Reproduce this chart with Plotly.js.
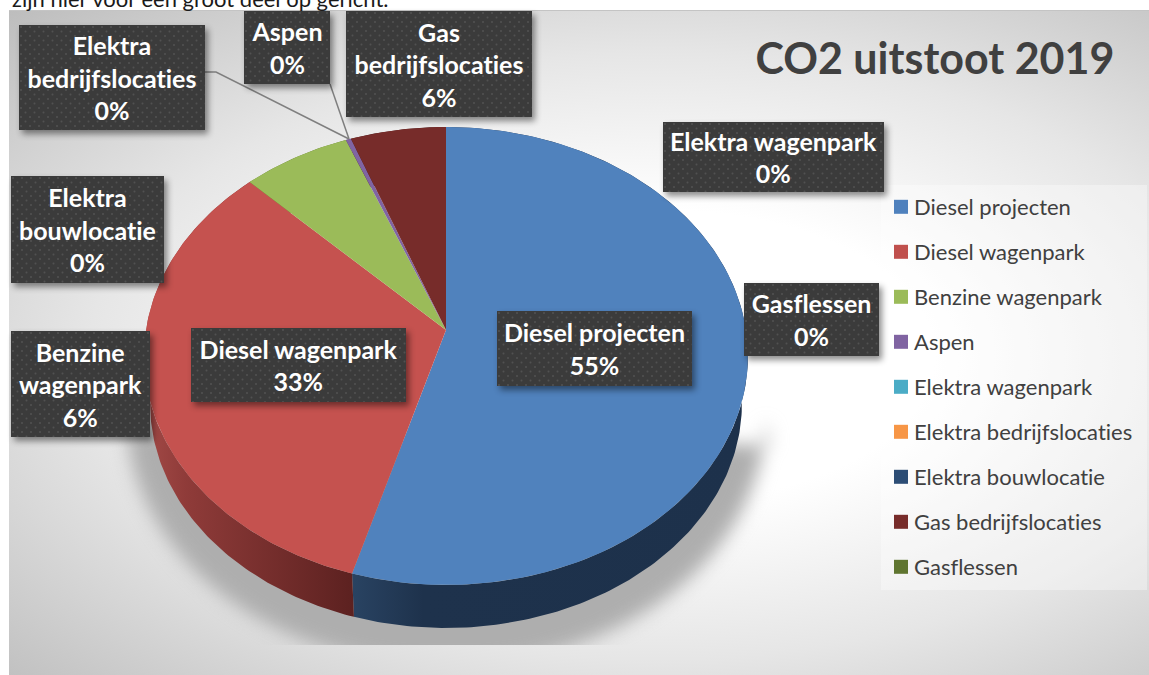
<!DOCTYPE html>
<html>
<head>
<meta charset="utf-8">
<script src="https://cdn.plot.ly/plotly-3.0.1.min.js"></script>
<style>
html,body{margin:0;padding:0;background:#fff;overflow:hidden}
#frame{position:absolute;left:9px;top:10px;width:1140px;height:665px;border-top:1px solid #c4c4c4;box-sizing:border-box;
background:radial-gradient(ellipse farthest-corner at 57% 52%,#fff 0%,#fff 30%,#e6e6e6 62%,#bdbdbd 100%)}
#chart{position:absolute;left:0;top:0;width:1149px;height:675px}
#chart text{font-variant-ligatures:none;font-feature-settings:"liga" 0,"clig" 0}
</style>
</head>
<body>
<div id="frame"></div>
<div id="chart"></div>
<script>
const categories=["Diesel projecten","Diesel wagenpark","Benzine wagenpark","Aspen","Elektra wagenpark","Elektra bedrijfslocaties","Elektra bouwlocatie","Gas bedrijfslocaties","Gasflessen"];
const values=[54.5,33,6.49,0.31,0,0,0,5.7,0];
const topColors=["#5082bd","#c5524f","#9bbb59","#8064a2","#4bacc6","#f79646","#2c4d75","#772c2a","#5f7530"];
const legendColors=["#4f81bd","#c0504d","#9bbb59","#8064a2","#4bacc6","#f79646","#2c4d75","#772c2a","#5f7530"];
const sideScales=[
 [[0,"#294362"],[0.18,"#1e324c"],[1,"#1d314b"]],
 [[0,"#a34a47"],[0.2,"#8f3b39"],[1,"#5c2120"]],
 [[0,"#5f7530"],[1,"#5f7530"]],
 [[0,"#4c3b60"],[1,"#4c3b60"]],
 [[0,"#2c6a7a"],[1,"#2c6a7a"]],
 [[0,"#a05c20"],[1,"#a05c20"]],
 [[0,"#1b2f48"],[1,"#1b2f48"]],
 [[0,"#471a19"],[1,"#471a19"]],
 [[0,"#3a471d"],[1,"#3a471d"]]
];
const boxLabels=["Diesel projecten","Diesel wagenpark","Benzine<br>wagenpark","Aspen","Elektra wagenpark","Elektra<br>bedrijfslocaties","Elektra<br>bouwlocatie","Gas<br>bedrijfslocaties","Gasflessen"];
// label boxes: left, top, right, bottom (pixels)
const boxes=[[497,311,692,386],[191,328,406,402],[11,331,150,437],[244,11,330,84],[663,122,884,192],[19,25,205,130],[11,176,164,283],[346,11,532,117],[744,283,879,356]];

// perspective projection of the pie disc
const apex={x:446,y:330}, K=0.1135, A=226, B=300;
function topPt(t){const u=Math.sin(t),v=Math.cos(t),w=1+K*v;return [apex.x+B*u/w,apex.y-A*v/w];}
function lowPt(t){const p=topPt(t);return [apex.x+(p[0]-apex.x)*0.98,356+(p[1]-356)*0.98+47.6];}
function arc(fn,a,b){const n=Math.max(2,Math.ceil(Math.abs(b-a)/0.015)),o=[];for(let i=0;i<=n;i++)o.push(fn(a+(b-a)*i/n));return o;}
const total=values.reduce((s,v)=>s+v,0);
let cum=0;
const spans=values.map(v=>{const a=cum/total*2*Math.PI;cum+=v;return [a,cum/total*2*Math.PI];});
function poly(pts,extra){return Object.assign({x:pts.map(p=>p[0]),y:pts.map(p=>p[1]),type:'scatter',mode:'lines',fill:'toself',line:{width:0},hoverinfo:'skip',showlegend:false},extra);}

const traces=[];
// soft shadow beneath the pie
(function(){
 const s=[];
 s.push([770,445]);
 arc(t=>{const p=lowPt(t);return [apex.x+(p[0]-apex.x)*1.08,Math.min(356+(p[1]-356)*1.12+6,665)];},1.7,4.55).forEach(p=>s.push(p));
 s.push([122,430]);
 traces.push(poly(s,{fillcolor:'#aeaeae'}));
})();
values.forEach((v,i)=>{ if(v<=0)return;
 const [a,b]=spans[i];
 const pts=arc(topPt,a,b).concat(arc(lowPt,b,a));
 traces.push(poly(pts,{fillgradient:{type:'horizontal',colorscale:sideScales[i]}}));
});
values.forEach((v,i)=>{ if(v<=0)return;
 const [a,b]=spans[i];
 const pts=[[apex.x,apex.y]].concat(arc(topPt,a,b));
 traces.push(poly(pts,{fillcolor:topColors[i],name:categories[i]}));
});
categories.forEach((c,i)=>{
 traces.push({x:[null],y:[null],type:'scatter',mode:'markers',name:c,legendgroup:c,showlegend:true,
  marker:{symbol:'square',size:14,color:legendColors[i]},hoverinfo:'skip'});
});

const annotations=categories.map((c,i)=>{
 const b=boxes[i];
 return {x:(b[0]+b[2])/2,y:(b[1]+b[3])/2,xref:'x',yref:'y',xanchor:'center',yanchor:'middle',showarrow:false,
  text:boxLabels[i]+'<br>'+Math.round(values[i])+'%',width:b[2]-b[0],height:b[3]-b[1],
  align:'center',valign:'middle',bgcolor:'#3c3c3c',borderwidth:0,borderpad:0,
  font:{family:'Lato',size:25,color:'#fff',weight:700}};
});
annotations.push({x:11,y:0,yshift:2,xref:'x',yref:'y',xanchor:'left',yanchor:'middle',showarrow:false,borderpad:0,
 text:'zijn hier voor een groot deel op gericht.',font:{family:'Lato',size:22,color:'#1a1a1a'}});

const layout={
 width:1149,height:675,margin:{l:0,r:0,t:0,b:0},paper_bgcolor:'rgba(0,0,0,0)',plot_bgcolor:'rgba(0,0,0,0)',
 xaxis:{range:[0,1149],visible:false,fixedrange:true},
 yaxis:{range:[675,0],visible:false,fixedrange:true},
 title:{text:'<b>CO2 uitstoot 2019</b>',x:0.8137,xanchor:'center',y:0.9126,yanchor:'middle',font:{family:'Lato',size:43,color:'#404040'}},
 legend:{x:874/1149,xanchor:'left',y:1-186/675,yanchor:'top',bgcolor:'rgba(0,0,0,0)',borderwidth:0,
  font:{family:'Lato',size:22,color:'#404040'},tracegroupgap:13.4,itemwidth:30,itemclick:false,itemdoubleclick:false},
 shapes:[
  {type:'rect',xref:'x',yref:'y',x0:881,x1:1147,y0:185,y1:590,fillcolor:'rgba(255,255,255,0.35)',line:{width:0},layer:'below'},
  {type:'path',xref:'x',yref:'y',path:'M205,72 L216,72 L349,139',line:{color:'#7f7f7f',width:1.5},layer:'above'},
  {type:'path',xref:'x',yref:'y',path:'M330,84 L349,139',line:{color:'#7f7f7f',width:1.5},layer:'above'}
 ],
 annotations:annotations,showlegend:true
};
Plotly.newPlot('chart',traces,layout,{displayModeBar:false}).then(gd=>{
 const NS='http://www.w3.org/2000/svg';
 const svg=gd.querySelector('svg.main-svg');
 const defs=svg.querySelector('defs');
 const pat=document.createElementNS(NS,'pattern');
 pat.setAttribute('id','dots');pat.setAttribute('width','9');pat.setAttribute('height','9');pat.setAttribute('patternUnits','userSpaceOnUse');
 pat.innerHTML='<rect width="9" height="9" fill="#3b3b3b"/><circle cx="2" cy="2" r="1" fill="#515151"/><circle cx="6.5" cy="6.5" r="1" fill="#515151"/>';
 defs.appendChild(pat);
 const clip=document.createElementNS(NS,'clipPath');
 clip.setAttribute('id','shadowclip');
 clip.innerHTML='<rect x="0" y="0" width="1149" height="645"/>';
 defs.appendChild(clip);
 gd.querySelectorAll('.annotation rect.bg').forEach(r=>{
  if(r.style.fill && r.getAttribute('width')>0 && r.style.fillOpacity!=='0'){
    r.style.fill='url(#dots)';r.style.filter='drop-shadow(3px 4px 3px rgba(0,0,0,.45))';
  }
 });
 const tr=gd.querySelector('.scatterlayer .trace');
 tr.setAttribute('clip-path','url(#shadowclip)');
 tr.querySelector('path.js-fill').style.filter='blur(9px)';
 gd.querySelectorAll('.legend .legendsymbols').forEach(s=>{s.setAttribute('transform','translate(7,0)');});
});
</script>
</body>
</html>
